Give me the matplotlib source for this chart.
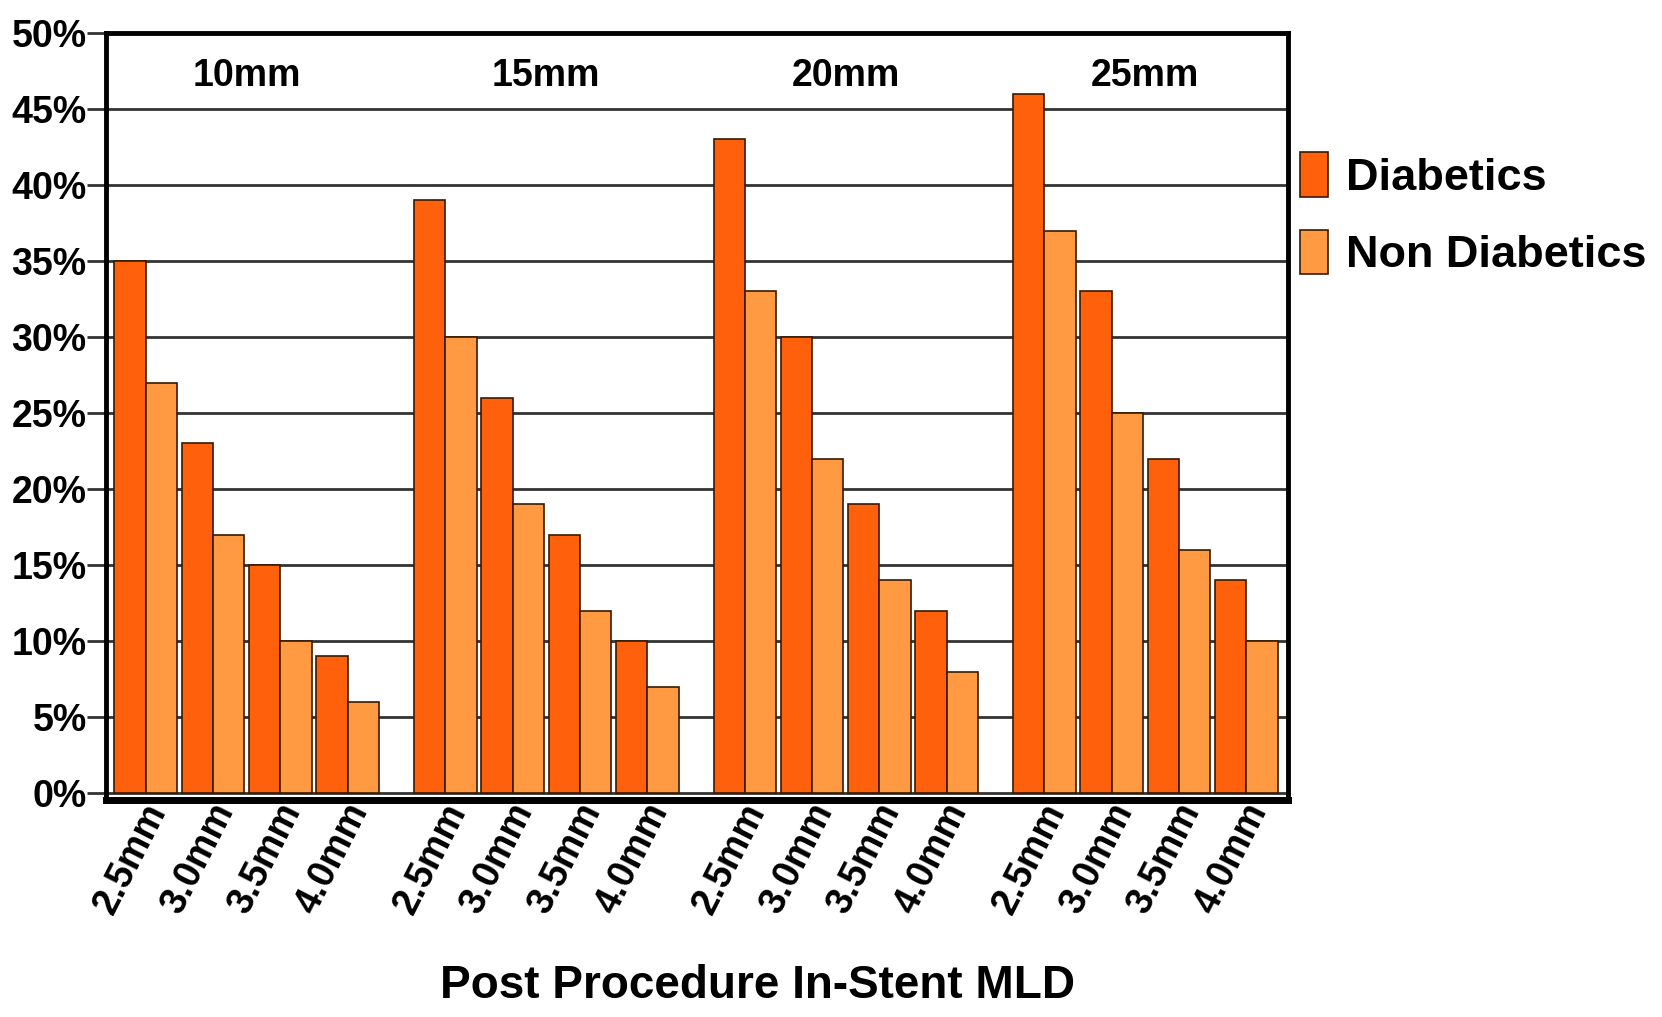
import matplotlib.pyplot as plt
import matplotlib.transforms as mtransforms
import numpy as np

plt.rcParams['font.family'] = ['Liberation Sans', 'DejaVu Sans']
plt.rcParams['font.weight'] = 'bold'

groups = ['10mm', '15mm', '20mm', '25mm']
sizes = ['2.5mm', '3.0mm', '3.5mm', '4.0mm']
diabetics = [35, 23, 15, 9,
             39, 26, 17, 10,
             43, 30, 19, 12,
             46, 33, 22, 14]
non_diabetics = [27, 17, 10, 6,
                 30, 19, 12, 7,
                 33, 22, 14, 8,
                 37, 25, 16, 10]
yticks = [0, 5, 10, 15, 20, 25, 30, 35, 40, 45, 50]

col_d = '#ff600c'
col_nd = '#ff9a42'
edge = '#3a1a00'

group_step = 4.45
w = 0.465
x = np.array([g * group_step + j for g in range(len(groups)) for j in range(len(sizes))])
labels = [s for g in groups for s in sizes]

fig = plt.figure(figsize=(16.62, 10.17), dpi=100)
ax = fig.add_axes([0.0638, 0.2134, 0.775 - 0.0638, 0.9676 - 0.2134])

ax.set_axisbelow(True)
ax.yaxis.grid(True, color='#333333', linewidth=2)
ax.bar(x - w / 2, diabetics, width=w, color=col_d, edgecolor=edge, linewidth=1.2, label='Diabetics')
ax.bar(x + w / 2, non_diabetics, width=w, color=col_nd, edgecolor=edge, linewidth=1.2, label='Non Diabetics')

ax.set_xlim(-0.59, 16.97)
ax.set_ylim(-0.45, 50)
ax.set_yticks(yticks)
ax.set_yticklabels([f'{v}%' for v in yticks], fontsize=27, fontweight='bold')
ax.tick_params(axis='y', length=14, width=2, color='#333333', pad=0)

ax.set_xticks(x)
ax.set_xticklabels(labels, fontsize=27, fontweight='bold', rotation=63,
                   ha='right', va='center', rotation_mode='anchor')
ax.tick_params(axis='x', length=0, pad=4)
offset = mtransforms.ScaledTranslation(12 / 100, 0, fig.dpi_scale_trans)
for lab in ax.get_xticklabels():
    lab.set_transform(lab.get_transform() + offset)

for s in ['left', 'top', 'right']:
    ax.spines[s].set_linewidth(3.5)
ax.spines['bottom'].set_linewidth(5)

for g, name in enumerate(groups):
    cx = g * group_step + 1.5
    ax.text(cx, 47.2, name, ha='center', va='center', fontsize=27, fontweight='bold')

fig.text(0.456, 0.03, 'Post Procedure In-Stent MLD', ha='center', va='center',
         fontsize=33, fontweight='bold')

fig.legend(loc='upper left', bbox_to_anchor=(0.7715, 0.868), frameon=False,
           prop={'size': 32.5, 'weight': 'bold'}, handlelength=0.62, handleheight=1.15,
           handletextpad=0.4, labelspacing=0.68, borderaxespad=0)

fig.savefig('out.png', dpi=100)
